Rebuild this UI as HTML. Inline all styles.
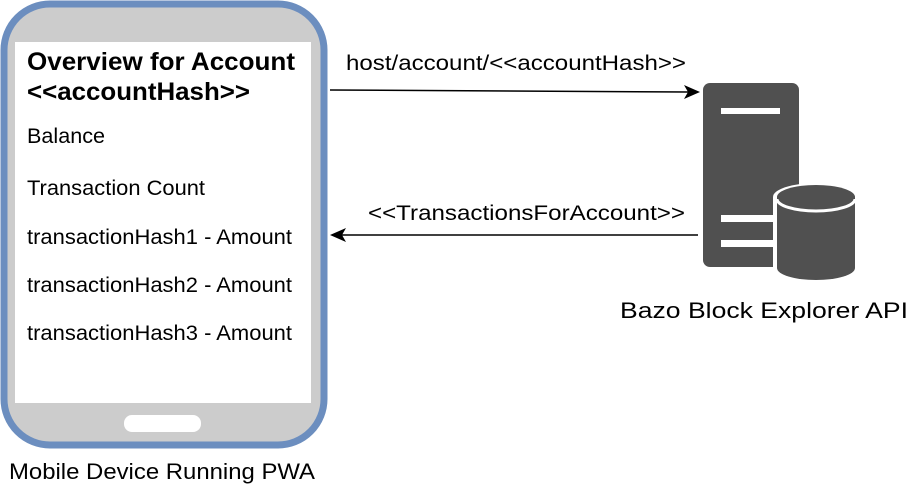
<!DOCTYPE html>
<html><head><meta charset="utf-8"><style>
body{margin:0;background:#fff;width:910px;height:484px;overflow:hidden}
svg text{font-family:"Liberation Sans",Arial,sans-serif;fill:#000}
</style></head><body>
<svg width="910" height="484" viewBox="0 0 910 484" xmlns="http://www.w3.org/2000/svg">
<rect x="4" y="4" width="320" height="441" rx="46" ry="46" fill="#cccccc" stroke="#6c8ebf" stroke-width="7"/>
<rect x="15" y="42" width="296" height="361" fill="#fff"/>
<rect x="124" y="415" width="77" height="17" rx="8" fill="#fff"/>
<text x="27" y="70" font-size="25" font-weight="bold" textLength="268" lengthAdjust="spacingAndGlyphs">Overview for Account</text>
<text x="27" y="100" font-size="25" font-weight="bold" textLength="223" lengthAdjust="spacingAndGlyphs">&lt;&lt;accountHash&gt;&gt;</text>
<text x="27" y="143" font-size="21" textLength="78" lengthAdjust="spacingAndGlyphs">Balance</text>
<text x="27" y="195" font-size="21" textLength="178" lengthAdjust="spacingAndGlyphs">Transaction Count</text>
<text x="27" y="244" font-size="21" textLength="265" lengthAdjust="spacingAndGlyphs">transactionHash1 - Amount</text>
<text x="27" y="292" font-size="21" textLength="265" lengthAdjust="spacingAndGlyphs">transactionHash2 - Amount</text>
<text x="27" y="340" font-size="21" textLength="265" lengthAdjust="spacingAndGlyphs">transactionHash3 - Amount</text>
<text x="9" y="479" font-size="22" textLength="306" lengthAdjust="spacingAndGlyphs">Mobile Device Running PWA</text>
<line x1="330" y1="90" x2="688" y2="92" stroke="#000" stroke-width="1.5"/>
<polygon points="700,92 684,85 688,92 684,99" fill="#000"/>
<text x="346" y="70" font-size="21" textLength="340" lengthAdjust="spacingAndGlyphs">host/account/&lt;&lt;accountHash&gt;&gt;</text>
<line x1="698" y1="235" x2="342" y2="235" stroke="#000" stroke-width="1.5"/>
<polygon points="330,235 346,228 342,235 346,242" fill="#000"/>
<text x="368" y="220" font-size="21" textLength="317" lengthAdjust="spacingAndGlyphs">&lt;&lt;TransactionsForAccount&gt;&gt;</text>
<rect x="703" y="83" width="96" height="184" rx="7" fill="#505050"/>
<rect x="721" y="108" width="59" height="6" fill="#fff"/>
<rect x="721" y="215" width="55" height="7" fill="#fff"/>
<rect x="721" y="240" width="55" height="7" fill="#fff"/>
<path d="M773,197 A43,14 0 0 1 859,197 L859,270 A43,14 0 0 1 773,270 Z" fill="#fff"/>
<path d="M777,197 A39,12 0 0 1 855,197 L855,268 A39,12 0 0 1 777,268 Z" fill="#505050"/>
<path d="M777,199 A39,12 0 0 0 855,199" fill="none" stroke="#fff" stroke-width="3"/>
<text x="620" y="318" font-size="22" textLength="288" lengthAdjust="spacingAndGlyphs">Bazo Block Explorer API</text>
</svg>
</body></html>
